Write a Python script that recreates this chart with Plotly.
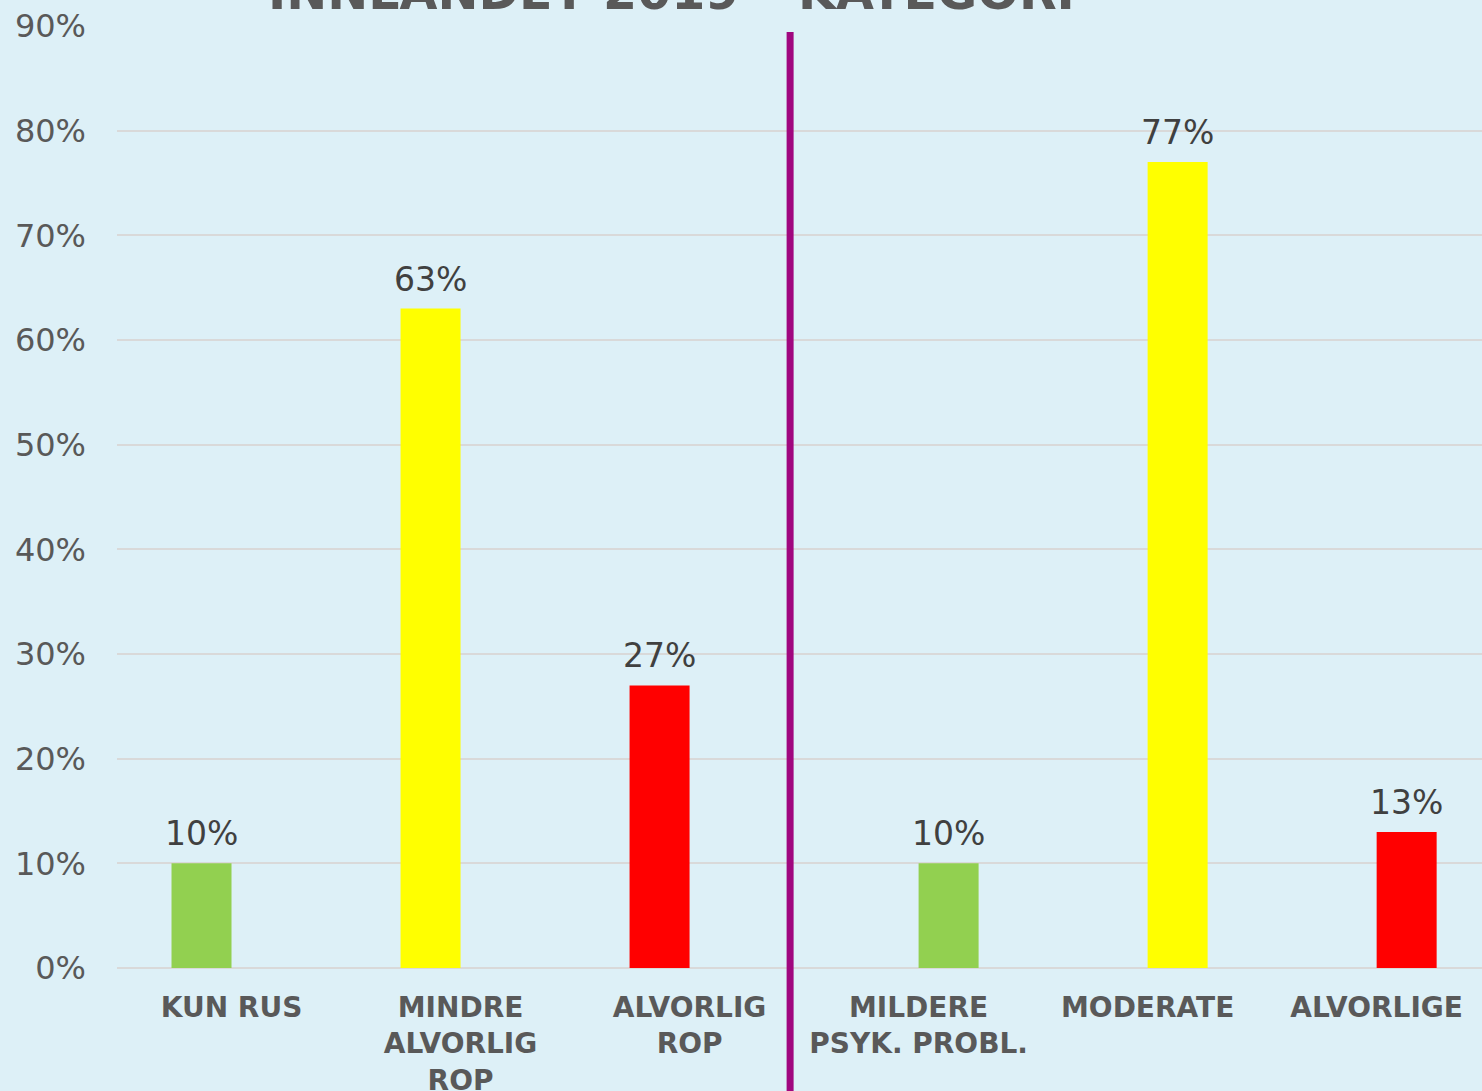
import plotly.graph_objects as go

categories = ["KUN RUS", "MINDRE<br>ALVORLIG<br>ROP", "ALVORLIG<br>ROP",
              "MILDERE<br>PSYK. PROBL.", "MODERATE", "ALVORLIGE"]
values_rop = [0.10, 0.63, 0.27, None, None, None]
labels_rop = ["10%", "63%", "27%", "", "", ""]
values_psyk = [None, None, None, 0.10, 0.77, 0.13]
labels_psyk = ["", "", "", "10%", "77%", "13%"]
colors = ["#92D050", "#FFFF00", "#FF0000", "#92D050", "#FFFF00", "#FF0000"]
ytick_vals = [0, 0.1, 0.2, 0.3, 0.4, 0.5, 0.6, 0.7, 0.8, 0.9]
ytick_text = ["0%", "10%", "20%", "30%", "40%", "50%", "60%", "70%", "80%", "90%"]
title_text = "INNLANDET 2019 – KATEGORI"

BG = "#DDF0F7"
BAR_W = 0.262
fig = go.Figure()
annotations = []
for k, (vals, labs) in enumerate([(values_rop, labels_rop), (values_psyk, labels_psyk)]):
    fig.add_trace(go.Bar(
        x=categories, y=vals, marker=dict(color=colors, line=dict(width=0)),
        showlegend=False, hoverinfo="skip"
    ))
    shift = (k - 0.5) * BAR_W
    for i, (v, t) in enumerate(zip(vals, labs)):
        if v is None:
            continue
        annotations.append(dict(
            x=i + shift, y=v, xref="x", yref="y", text=t, showarrow=False,
            xanchor="center", yanchor="bottom", yshift=8,
            font=dict(family="DejaVu Sans", size=33, color="#404040"),
        ))

annotations.append(dict(
    text="<b>" + title_text + "</b>", xref="paper", yref="paper",
    x=0.406, y=1, xanchor="center", yanchor="bottom", yshift=3,
    showarrow=False,
    font=dict(family="DejaVu Sans", size=49, color="#595959"),
))

fig.update_layout(
    width=1482, height=1091,
    margin=dict(l=117, r=0, t=26, b=123, pad=0),
    paper_bgcolor=BG, plot_bgcolor=BG,
    barmode="group", bargap=1 - 2 * BAR_W, bargroupgap=0,
    xaxis=dict(
        type="category", range=[-0.5, 5.46], automargin=False,
        showgrid=False, showline=False, zeroline=False,
        ticks="", ticklabelstandoff=20,
        tickfont=dict(family="DejaVu Sans", size=28, color="#595959", weight="bold"),
    ),
    yaxis=dict(
        range=[0, 0.9], tickvals=ytick_vals, ticktext=ytick_text, automargin=False,
        showgrid=True, gridcolor="#D9D9D9", gridwidth=2,
        zeroline=True, zerolinecolor="#D9D9D9", zerolinewidth=2,
        showline=False, ticks="", ticklabelstandoff=30,
        tickfont=dict(family="DejaVu Sans", size=32, color="#595959"),
    ),
    annotations=annotations,
    shapes=[dict(
        type="line", xref="x", yref="paper",
        x0=2.439, x1=2.439, y0=-0.135, y1=0.9936,
        line=dict(color="#A0077F", width=7),
    )],
)

fig.write_html("out.html", config={"displayModeBar": False},
               post_script="document.body.style.margin='0';")
